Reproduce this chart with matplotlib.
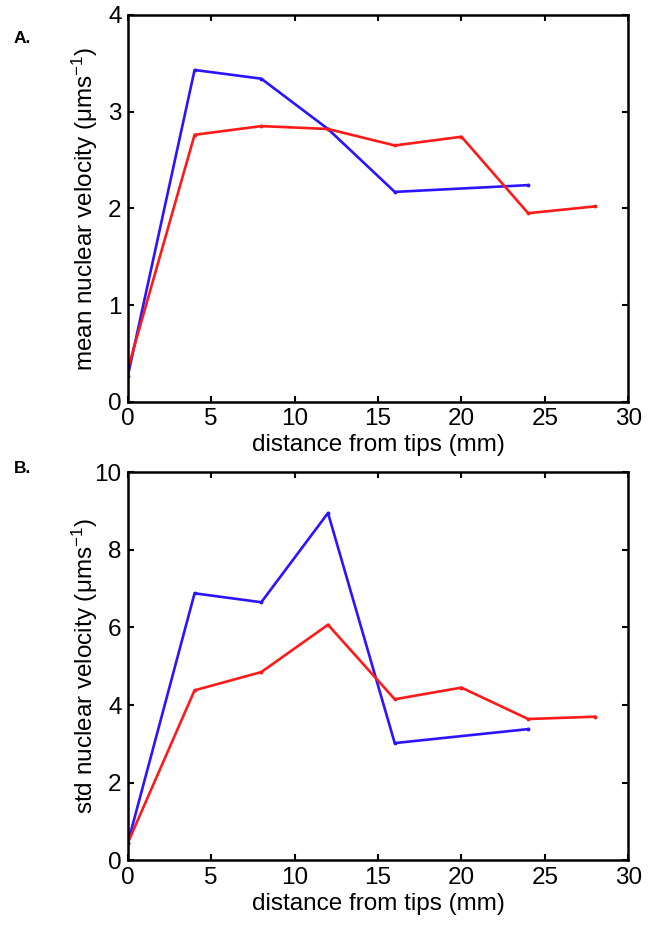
import matplotlib.pyplot as plt

plt.rcParams['font.family'] = ['Liberation Sans', 'DejaVu Sans']
plt.rcParams['mathtext.fontset'] = 'custom'
plt.rcParams['mathtext.rm'] = 'Liberation Sans'
plt.rcParams['mathtext.it'] = 'Liberation Sans'

# distance from tips (mm)
blue_x = [0, 4, 8, 12, 16, 24]
red_x = [0, 4, 8, 12, 16, 20, 24, 28]

# panel A: mean nuclear velocity
mean_blue = [0.27, 3.43, 3.34, 2.82, 2.17, 2.24]
mean_red = [0.34, 2.76, 2.85, 2.82, 2.65, 2.74, 1.95, 2.02]

# panel B: std nuclear velocity
std_blue = [0.45, 6.88, 6.65, 8.95, 3.02, 3.38]
std_red = [0.45, 4.38, 4.85, 6.07, 4.15, 4.45, 3.64, 3.70]

xticks = [0, 5, 10, 15, 20, 25, 30]

fig = plt.figure(figsize=(6.49, 9.26), dpi=100)
axA = fig.add_axes([0.197, 0.566, 0.771, 0.418])
axB = fig.add_axes([0.197, 0.071, 0.771, 0.419])

panels = [
    (axA, mean_blue, mean_red, 4, [0, 1, 2, 3, 4], 'mean nuclear velocity (μms$^{-1}$)', 'A.', 0.9536),
    (axB, std_blue, std_red, 10, [0, 2, 4, 6, 8, 10], 'std nuclear velocity (μms$^{-1}$)', 'B.', 0.489),
]

for ax, yb, yr, ymax, yticks, ylabel, tag, ty in panels:
    ax.plot(blue_x, yb, color='#2b14ff', lw=1.9, marker='.', ms=3.5)
    ax.plot(red_x, yr, color='#ff1a1a', lw=1.9, marker='.', ms=3.5)
    ax.set_xlim(0, 30)
    ax.set_ylim(0, ymax)
    ax.set_xticks(xticks)
    ax.set_yticks(yticks)
    ax.tick_params(direction='in', top=True, right=True, length=4, width=1.5,
                   labelsize=17.5)
    ax.tick_params(axis='x', pad=4.5)
    ax.tick_params(axis='y', pad=4.5)
    for s in ax.spines.values():
        s.set_linewidth(1.8)
    ax.set_xlabel('distance from tips (mm)', fontsize=17.5, labelpad=3)
    ax.set_ylabel(ylabel, fontsize=17.5)
    ax.yaxis.set_label_coords(-0.056, 0.5)
    fig.text(0.021, ty, tag, fontsize=12.5, fontweight='bold', va='baseline')

fig.savefig('out.png', dpi=100)
